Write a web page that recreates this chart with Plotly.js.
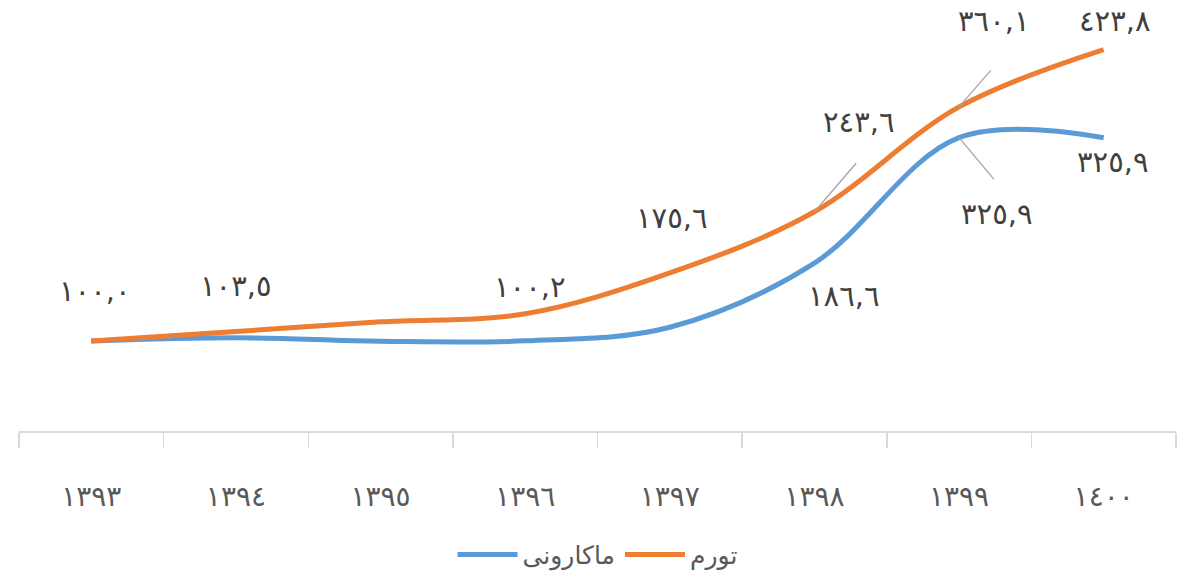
<!DOCTYPE html>
<html>
<head>
<meta charset="utf-8">
<script src="https://cdn.plot.ly/plotly-3.0.1.min.js"></script>
<style>html,body{margin:0;padding:0;background:#fff;}#chart{width:1183px;height:581px;}</style>
</head>
<body>
<div id="chart"></div>
<script>
// Data
const years = ["١٣٩٣", "١٣٩٤", "١٣٩٥", "١٣٩٦", "١٣٩٧", "١٣٩٨", "١٣٩٩", "١٤٠٠"];
const macaroni = [100.0, 103.5, 99.7, 100.2, 115.3, 186.6, 325.9, 325.9];
const inflation = [100.0, 110.5, 121.3, 130.2, 175.6, 243.6, 360.1, 423.8];
const seriesNames = ["ماکارونی", "تورم"];

const toFa = v => v.toFixed(1).replace('.', ',').replace(/[0-9]/g, d => String.fromCharCode(0x0660 + (+d)));

const labelFont = {family: "DejaVu Sans", size: 29, color: "#404040"};
const labelSpecs = [
  // [series, index, ax, ay]
  [inflation, 0, 4, -50],
  [macaroni, 1, 0, -52],
  [macaroni, 3, 5, -54],
  [inflation, 4, 2, -55],
  [inflation, 5, 45, -90],
  [macaroni, 5, 30, 33],
  [inflation, 6, 35, -86],
  [macaroni, 6, 38, 76],
  [inflation, 7, 11, -29],
  [macaroni, 7, 9, 24]
];
const leaderSpecs = [
  [inflation, 5, 43, -50],
  [inflation, 6, 33, -38],
  [macaroni, 6, 36, 43]
];
const annotations = [];
labelSpecs.forEach(([s, i, ax, ay]) => {
  annotations.push({x: years[i], y: s[i], xref: 'x', yref: 'y', text: toFa(s[i]),
    showarrow: true, arrowcolor: 'rgba(0,0,0,0)', ax: ax, ay: ay, font: labelFont});
});
leaderSpecs.forEach(([s, i, ax, ay]) => {
  annotations.push({x: years[i], y: s[i], xref: 'x', yref: 'y', text: '',
    showarrow: true, arrowhead: 0, arrowwidth: 1.3, arrowcolor: '#a6a6a6', standoff: 0, ax: ax, ay: ay});
});

const traces = [
  {x: years, y: macaroni, name: seriesNames[0], type: 'scatter', mode: 'lines',
   line: {color: '#5B9BD5', width: 5, shape: 'spline', smoothing: 1}},
  {x: years, y: inflation, name: seriesNames[1], type: 'scatter', mode: 'lines',
   line: {color: '#ED7D31', width: 5, shape: 'spline', smoothing: 1}}
];

const layout = {
  width: 1183, height: 581,
  margin: {l: 19, r: 7, t: 26, b: 150, autoexpand: false},
  paper_bgcolor: '#fff', plot_bgcolor: '#fff',
  showlegend: true,
  legend: {orientation: 'h', x: 0.5, xanchor: 'center', y: 0.045, yref: 'container', yanchor: 'middle',
    font: {family: "DejaVu Sans", size: 25, color: '#595959'}, itemwidth: 60},
  xaxis: {type: 'category', range: [-0.5, 7.5], showgrid: false, zeroline: false,
    showline: true, linecolor: '#d9d9d9', linewidth: 1.5,
    ticks: 'outside', tickson: 'boundaries', ticklen: 15, tickcolor: '#d9d9d9', tickwidth: 1.5,
    ticklabelstandoff: 40,
    tickfont: {family: "DejaVu Sans", size: 28, color: '#595959'}},
  yaxis: {range: [0, 450], visible: false, showgrid: false, zeroline: false},
  annotations: annotations,
  hovermode: false
};

Plotly.newPlot('chart', traces, layout, {displayModeBar: false, staticPlot: true});
</script>
</body>
</html>
